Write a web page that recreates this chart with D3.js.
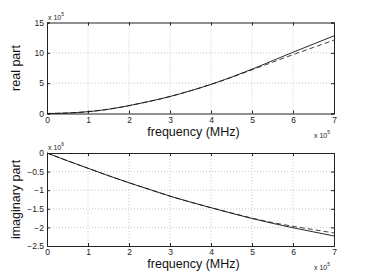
<!DOCTYPE html>
<html>
<head>
<meta charset="utf-8">
<script src="https://cdn.jsdelivr.net/npm/d3@7"></script>
<style>
  body { margin: 0; background: #fff; }
  svg { display: block; font-family: "Liberation Sans", Arial, sans-serif; }
</style>
</head>
<body>
<svg width="370" height="278"></svg>
<script>
// frequency samples (x 10^5)
var freq = [0, 0.5, 1, 1.5, 2, 2.5, 3, 3.5, 4, 4.5, 5, 5.5, 6, 6.5, 7];
// real part (x 10^5)
var realSolid  = [0, 0.08, 0.3, 0.7, 1.3, 2.0, 2.8, 3.75, 4.8, 6.0, 7.3, 8.7, 10.1, 11.45, 12.8];
var realDashed = [0, 0.08, 0.3, 0.7, 1.3, 2.0, 2.8, 3.75, 4.8, 5.95, 7.2, 8.45, 9.7, 10.9, 12.1];
// imaginary part (x 10^6)
var imagSolid  = [0, -0.21, -0.41, -0.61, -0.8, -0.98, -1.16, -1.32, -1.47, -1.62, -1.76, -1.89, -2.01, -2.12, -2.23];
var imagDashed = [0, -0.21, -0.41, -0.61, -0.8, -0.98, -1.16, -1.32, -1.47, -1.61, -1.75, -1.87, -1.97, -2.06, -2.15];

var xTicks = [0, 1, 2, 3, 4, 5, 6, 7];
var realTicks = [0, 5, 10, 15];
var imagTicks = [0, -0.5, -1, -1.5, -2, -2.5];

var svg = d3.select('svg');
var L = 47, R = 334;

function panel(top, bottom, yDomain, yTicks, solid, dashed, ylabel, yExp) {
  var x = d3.scaleLinear().domain([0, 7]).range([L, R]),
      y = d3.scaleLinear().domain(yDomain).range([bottom, top]);
  var g = svg.append('g');

  // dotted grid
  g.selectAll('.gx').data(xTicks.slice(1, -1)).enter().append('line')
    .attr('x1', function(d) { return x(d); }).attr('x2', function(d) { return x(d); })
    .attr('y1', top).attr('y2', bottom)
    .attr('stroke', '#bbb').attr('stroke-width', 0.8).attr('stroke-dasharray', '1,2');
  g.selectAll('.gy').data(yTicks.filter(function(d) { return d !== yDomain[0] && d !== yDomain[1]; }))
    .enter().append('line')
    .attr('x1', L).attr('x2', R)
    .attr('y1', function(d) { return y(d); }).attr('y2', function(d) { return y(d); })
    .attr('stroke', '#bbb').attr('stroke-width', 0.8).attr('stroke-dasharray', '1,2');

  // axes with inward ticks
  g.append('g').attr('transform', 'translate(0,' + bottom + ')')
    .call(d3.axisBottom(x).tickValues(xTicks).tickSize(-3).tickPadding(3).tickFormat(d3.format('d')));
  g.append('g').attr('transform', 'translate(' + L + ',0)')
    .call(d3.axisLeft(y).tickValues(yTicks).tickSize(-3).tickPadding(3).tickFormat(function(d) {
      return String(d).replace('-', '\u2212');
    }));
  g.append('g').attr('transform', 'translate(0,' + top + ')')
    .call(d3.axisTop(x).tickValues(xTicks).tickSize(-3).tickFormat(''));
  g.append('g').attr('transform', 'translate(' + R + ',0)')
    .call(d3.axisRight(y).tickValues(yTicks).tickSize(-3).tickFormat(''));
  g.selectAll('.domain').attr('stroke', '#222');
  g.selectAll('.tick line').attr('stroke', '#222');
  g.selectAll('.tick text').attr('font-size', 8.5).attr('fill', '#222');

  // lines
  var line = d3.line()
    .x(function(d, i) { return x(freq[i]); })
    .y(function(d) { return y(d); })
    .curve(d3.curveMonotoneX);
  g.append('path').datum(dashed).attr('d', line)
    .attr('fill', 'none').attr('stroke', '#111').attr('stroke-width', 0.8).attr('stroke-dasharray', '5,3');
  g.append('path').datum(solid).attr('d', line)
    .attr('fill', 'none').attr('stroke', '#111').attr('stroke-width', 0.9);

  // labels
  g.append('text').attr('x', (L + R) / 2 + 3).attr('y', bottom + 22)
    .attr('text-anchor', 'middle').attr('font-size', 12.5).attr('fill', '#111')
    .text('frequency (MHz)');
  g.append('text')
    .attr('transform', 'translate(' + 20 + ',' + ((top + bottom) / 2) + ') rotate(-90)')
    .attr('text-anchor', 'middle').attr('font-size', 12.5).attr('fill', '#111')
    .text(ylabel);

  // exponent labels
  var ex = g.append('text').attr('x', L + 1).attr('y', top - 3)
    .attr('font-size', 7).attr('fill', '#222');
  ex.append('tspan').text('x 10');
  ex.append('tspan').attr('dy', -4).attr('font-size', 5).text(yExp);
  var ex2 = g.append('text').attr('x', R - 20).attr('y', bottom + 24)
    .attr('font-size', 7).attr('fill', '#222');
  ex2.append('tspan').text('x 10');
  ex2.append('tspan').attr('dy', -4).attr('font-size', 5).text('5');
}

panel(22.5, 113.5, [0, 15], realTicks, realSolid, realDashed, 'real part', '5');
panel(153, 246, [-2.5, 0], imagTicks, imagSolid, imagDashed, 'imaginary part', '6');
</script>
</body>
</html>
